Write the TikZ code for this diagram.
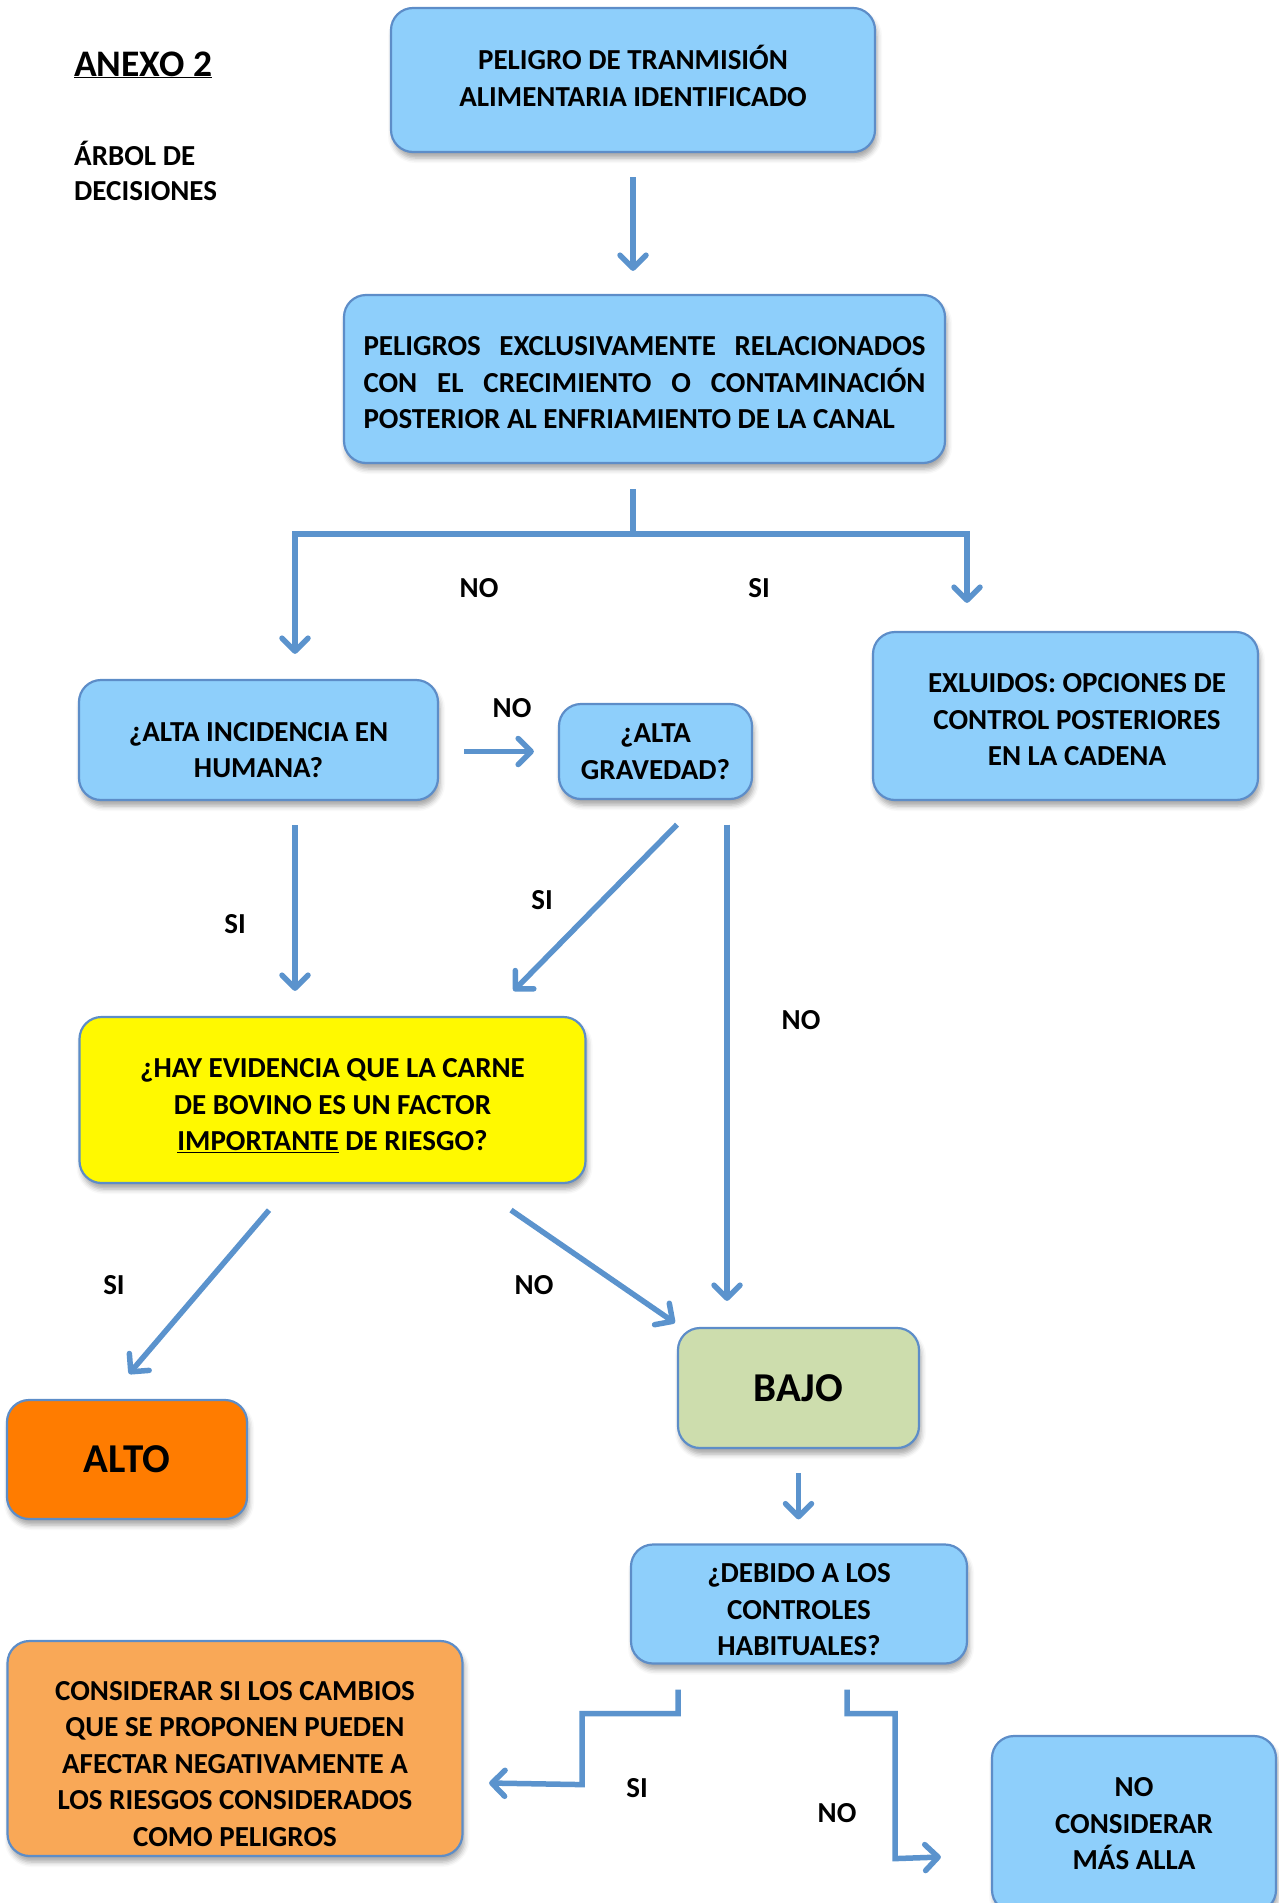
\documentclass[tikz,border=0pt]{standalone}
\usepackage{fontspec}
\setmainfont{Carlito}
\usetikzlibrary{arrows.meta,shadows.blur,calc}
\definecolor{lblue}{HTML}{8ECFFB}
\definecolor{boxline}{HTML}{5D8DC8}
\definecolor{arrowc}{HTML}{5B93CD}
\definecolor{yel}{HTML}{FFF900}
\definecolor{altoc}{HTML}{FF7C00}
\definecolor{bajoc}{HTML}{CDDDAD}
\definecolor{consc}{HTML}{F9A857}
\tikzset{
  box/.style={draw=boxline, line width=2.2pt, rounded corners=22pt, align=center, inner sep=0pt,
    blur shadow={shadow xshift=2pt, shadow yshift=-6pt, shadow blur radius=5pt, shadow opacity=35}},
  txt/.style={align=center, inner sep=0pt},
  lab/.style={inner sep=0pt},
  ln/.style={draw=arrowc, line width=5.5pt},
  arr/.style={ln, -{Straight Barb[length=13pt,width=26pt,round]}},
}
\begin{document}
\begin{tikzpicture}[x=1pt, y=-1pt, font=\bfseries\fontsize{29}{36.5}\selectfont]
\useasboundingbox (0,0) rectangle (1278,1903);
% header
\node[lab, anchor=base west] (anexo) at (74,76) {\fontsize{37.5}{42}\selectfont\underline{ANEXO 2}};
\node[lab, anchor=base west] (arbol1) at (74,165) {ÁRBOL DE};
\node[lab, anchor=base west] (arbol2) at (74,200) {DECISIONES};
% boxes
\node[box, fill=lblue, minimum width=484pt, minimum height=144pt] (top) at (633,80) {};
\node[txt] (topt) at (633,76) {PELIGRO DE TRANMISIÓN\\ALIMENTARIA IDENTIFICADO};
\node[box, fill=lblue, minimum width=601pt, minimum height=168pt] (excl) at (644.5,379) {};
\node[txt, text width=562pt, align=justify] (exclt) at (644.5,383)
  {PELIGROS EXCLUSIVAMENTE RELACIONADOS\linebreak CON EL CRECIMIENTO O CONTAMINACIÓN\linebreak POSTERIOR AL ENFRIAMIENTO DE LA CANAL};
\node[box, fill=lblue, minimum width=359pt, minimum height=120pt] (incid) at (258.5,740) {};
\node[txt] (incidt) at (258.5,750) {¿ALTA INCIDENCIA EN\\HUMANA?};
\node[box, fill=lblue, minimum width=193pt, minimum height=95pt] (grav) at (655.5,751.5)
  {¿ALTA\\GRAVEDAD?};
\node[box, fill=lblue, minimum width=385pt, minimum height=168pt] (exlu) at (1065.5,716) {};
\node[txt] (exlut) at (1077,720) {EXLUIDOS: OPCIONES DE\\CONTROL POSTERIORES\\EN LA CADENA};
\node[box, fill=yel, minimum width=506pt, minimum height=166pt] (yellow) at (332.5,1100) {};
\node[txt] (yellowt) at (332.5,1106)
  {¿HAY EVIDENCIA QUE LA CARNE\\DE BOVINO ES UN FACTOR\\\underline{IMPORTANTE} DE RIESGO?};
\node[box, fill=altoc, minimum width=240pt, minimum height=119pt, font=\bfseries\fontsize{41}{45}\selectfont] (alto) at (127,1459.5) {ALTO};
\node[box, fill=bajoc, minimum width=241pt, minimum height=120pt, font=\bfseries\fontsize{41}{45}\selectfont] (bajo) at (798.5,1388) {BAJO};
\node[box, fill=lblue, minimum width=336pt, minimum height=119pt] (debido) at (799,1604) {};
\node[txt] (debidot) at (799,1610) {¿DEBIDO A LOS\\CONTROLES\\HABITUALES?};
\node[box, fill=consc, minimum width=455pt, minimum height=215pt] (consid) at (235,1748.5) {};
\node[txt] (considt) at (235,1764) {CONSIDERAR SI LOS CAMBIOS\\QUE SE PROPONEN PUEDEN\\AFECTAR NEGATIVAMENTE A\\LOS RIESGOS CONSIDERADOS\\COMO PELIGROS};
\node[box, fill=lblue, minimum width=284pt, minimum height=176pt] (nocons) at (1134,1824)
  {NO\\CONSIDERAR\\MÁS ALLA};
% connectors
\draw[arr, shorten <=24pt, shorten >=23pt] (top.south) -- (top.south |- excl.north);
\coordinate (split) at (633,534);
\coordinate (lft) at (295,534);
\coordinate (rgt) at (967,534);
\draw[ln, shorten <=25pt] (excl.south -| split) -- (split);
\draw[arr, shorten >=25pt] (split) -| (incid.north -| lft);
\draw[arr, shorten >=28pt] (split) -| (exlu.north -| rgt);
\draw[arr, shorten <=25pt, shorten >=24pt] (grav.west -| incid.east) -- (grav.west);
\draw[arr, shorten <=24pt, shorten >=25pt] (incid.south -| lft) -- (yellow.north -| lft);
\draw[arr] ($(grav.south)+(21.5,24.5)$) -- ($(yellow.north)+(181,-25)$);
\draw[arr] ($(grav.south)+(71.5,24.5)$) -- ($(bajo.north)+(-71.5,-26)$);
\draw[arr] ($(yellow.south)+(-63.5,26)$) -- ($(alto.north)+(2,-25)$);
\draw[arr] ($(yellow.south)+(178.5,26)$) -- ($(bajo.north west)+(-2,-4)$);
\draw[arr, shorten <=24pt, shorten >=24pt] (bajo.south) -- (bajo.south |- debido.north);
\draw[arr] ($(debido.south)+(-121,25)$) -- ++(0,24) -- ++(-96,0) -- ++(0,71) -- ($(consid.east)+(25.5,34.5)$);
\draw[arr] ($(debido.south)+(48,25)$) -- ++(0,24) -- ++(48,0) -- ++(0,145) -- ($(nocons.west)+(-50,33)$);
% labels
\node[lab] (l1) at (479,588) {NO};
\node[lab] (l2) at (759,588) {SI};
\node[lab] (l3) at (512,708) {NO};
\node[lab] (l4) at (235,924) {SI};
\node[lab] (l5) at (542,900) {SI};
\node[lab] (l6) at (801,1020) {NO};
\node[lab] (l7) at (114,1285) {SI};
\node[lab] (l8) at (534,1285) {NO};
\node[lab] (l9) at (637,1788) {SI};
\node[lab] (l10) at (837,1813) {NO};
\end{tikzpicture}
\end{document}
